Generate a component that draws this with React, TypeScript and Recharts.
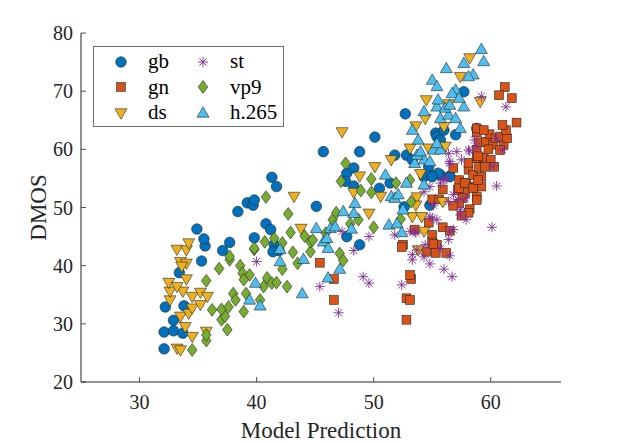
import React from 'react';
import { ScatterChart, Scatter, XAxis, YAxis } from 'recharts';

// values: [model prediction, DMOS]
const gb: number[][] = [
  [32.1, 25.7], [32.1, 28.6], [32.9, 28.8], [33.7, 28.4], [32.9, 30.6], [32.2, 32.9], [33.8, 33.1],
  [33.4, 38.8], [35.3, 40.8], [35.6, 43.4], [35.5, 44.6], [34.9, 46.3], [37.1, 42.6], [37.7, 44.0],
  [39.8, 44.8], [40.8, 47.2], [41.2, 46.2], [38.4, 49.3], [39.2, 50.8], [39.7, 50.4], [39.8, 51.3],
  [41.3, 55.2], [41.7, 53.6], [41.5, 43.6], [41.9, 42.6], [41.4, 42.4], [45.1, 50.2], [45.7, 59.6],
  [47.7, 55.9], [47.6, 54.5], [47.7, 45.0], [48.8, 43.6], [48.3, 53.7], [48.3, 56.8], [48.8, 59.6],
  [50.1, 62.1], [50.5, 53.3], [51.4, 54.2], [51.8, 59.0], [52.6, 50.1], [52.7, 66.1], [52.8, 59.0],
  [53.3, 58.2], [54.7, 57.0], [54.3, 55.3], [54.8, 50.4], [55.0, 55.4], [55.7, 55.6], [56.5, 55.4],
  [55.5, 55.9], [55.3, 62.8], [55.4, 62.2], [55.7, 61.6], [56.0, 63.3], [57.0, 62.5], [57.7, 69.9],
  [58.8, 63.6], [56.5, 55.3], [55.0, 55.3],
];

const gn: number[][] = [
  [45.4, 40.5], [46.6, 37.7], [46.6, 34.1], [52.8, 30.7], [52.8, 34.4], [53.1, 34.1], [53.2, 37.7],
  [53.1, 38.4], [52.5, 43.6], [52.4, 43.2], [53.5, 46.2], [54.7, 47.4], [55.0, 45.3], [55.0, 44.0],
  [55.4, 43.6], [54.5, 42.4], [55.3, 42.2], [56.2, 42.2], [55.1, 43.7], [55.9, 46.6], [56.5, 46.0],
  [55.0, 51.4], [55.6, 51.4], [55.9, 53.1], [57.2, 53.0], [57.8, 52.5], [58.8, 51.8], [57.6, 51.6],
  [57.3, 50.7], [56.8, 50.3], [58.2, 49.7], [58.1, 49.1], [57.5, 48.6], [58.8, 51.3], [57.3, 54.7],
  [57.9, 54.2], [58.7, 53.6], [59.2, 53.6], [57.3, 53.3], [57.8, 54.2], [58.5, 53.3], [56.8, 56.8],
  [58.1, 56.5], [58.5, 55.6], [59.2, 55.3], [58.9, 54.7], [58.1, 57.7], [58.8, 58.5], [59.4, 58.6],
  [60.0, 58.2], [59.0, 57.0], [59.5, 57.0], [60.3, 57.0], [58.8, 59.9], [58.9, 58.8], [59.0, 61.2],
  [59.6, 61.3], [60.2, 60.8], [61.1, 60.8], [59.8, 60.0], [60.8, 59.9], [58.8, 62.9], [59.9, 62.6],
  [60.4, 61.9], [60.8, 62.2], [61.4, 61.9], [61.3, 63.3], [61.0, 64.2], [62.2, 64.6], [58.8, 63.6],
  [59.4, 63.3], [61.2, 70.7], [60.7, 69.3], [61.8, 68.8],
];

const ds: number[][] = [
  [33.2, 25.8], [33.5, 25.5], [34.5, 27.8], [33.9, 29.5], [35.7, 28.7], [33.5, 31.3], [34.2, 31.8],
  [34.5, 32.7], [35.2, 33.3], [32.6, 34.1], [32.6, 35.6], [33.7, 35.6], [34.5, 34.7], [35.2, 35.4],
  [35.8, 34.7], [32.5, 37.1], [33.2, 36.4], [34.0, 37.7], [33.5, 40.7], [34.0, 40.4], [33.6, 39.9],
  [33.2, 42.8], [34.0, 42.7], [34.2, 43.9], [43.2, 51.9], [43.8, 46.4], [47.3, 63.0], [48.8, 55.4],
  [48.3, 52.6], [49.6, 49.0], [50.6, 51.9], [50.1, 57.0], [51.5, 58.2], [53.1, 60.2], [54.7, 60.2],
  [56.1, 60.5], [53.6, 64.0], [54.4, 65.3], [56.0, 63.9], [54.5, 68.5], [56.4, 67.8], [59.1, 68.2],
  [57.4, 72.5], [58.2, 75.7], [54.0, 55.8], [53.7, 51.8], [53.6, 50.4], [53.3, 48.4], [54.1, 48.4],
  [54.3, 45.9], [55.9, 51.0], [53.8, 42.7],
];

const st: number[][] = [
  [40.0, 40.7], [45.4, 36.4], [47.0, 31.9], [47.3, 45.9], [48.3, 42.6], [49.6, 45.0], [49.1, 38.1],
  [49.6, 37.0], [51.8, 45.3], [52.4, 36.7], [53.1, 45.9], [53.6, 45.6], [53.3, 41.9], [53.3, 41.0],
  [53.7, 42.7], [54.3, 41.5], [54.8, 40.3], [54.4, 43.6], [55.7, 43.0], [56.5, 41.7], [56.0, 39.4],
  [56.7, 38.1], [55.0, 48.2], [55.4, 47.9], [54.8, 48.4], [56.5, 45.9], [56.8, 46.2], [56.4, 44.5],
  [53.5, 45.9], [54.3, 52.7], [55.7, 54.2], [56.2, 55.0], [56.8, 52.2], [57.4, 49.6], [57.4, 48.7],
  [57.9, 47.9], [55.1, 50.4], [56.4, 51.0], [57.2, 51.3], [57.8, 51.6], [56.0, 54.7], [54.8, 53.6],
  [60.5, 53.7], [60.1, 46.6], [60.2, 57.1], [56.5, 57.6], [57.5, 58.2], [56.4, 59.3], [57.1, 59.6],
  [58.2, 59.7], [58.6, 61.6], [58.1, 59.9], [58.8, 60.5], [56.5, 57.9], [60.5, 61.9], [61.0, 59.9],
  [61.3, 67.3], [59.2, 69.1],
];

const vp9: number[][] = [
  [34.5, 25.5], [35.7, 27.1], [35.7, 28.1], [37.5, 29.0], [37.0, 30.7], [37.3, 31.3], [37.0, 32.5],
  [37.6, 32.9], [36.2, 32.4], [38.9, 32.1], [38.0, 35.2], [38.2, 34.1], [39.1, 35.2], [40.3, 34.1],
  [40.6, 36.4], [40.9, 37.9], [35.7, 37.4], [36.8, 39.5], [37.7, 41.0], [38.6, 40.0], [38.8, 38.7],
  [39.4, 38.4], [38.9, 37.6], [39.8, 42.8], [40.7, 44.1], [37.7, 41.6], [39.8, 43.0], [40.8, 51.8],
  [41.5, 44.7], [42.2, 43.9], [41.3, 37.0], [41.7, 37.1], [42.6, 36.4], [43.5, 40.4], [42.2, 39.4],
  [43.1, 42.3], [44.6, 42.4], [44.6, 44.1], [42.7, 48.9], [42.9, 45.7], [44.1, 45.1], [44.8, 44.4],
  [45.9, 44.1], [45.9, 45.6], [46.5, 47.9], [46.8, 49.1], [47.1, 42.1], [47.4, 40.9], [47.6, 57.6],
  [47.2, 54.5], [48.0, 47.2], [48.7, 47.9], [48.9, 52.9], [49.8, 52.6], [49.8, 54.9], [50.0, 46.6],
  [51.9, 54.2], [53.1, 54.7], [53.2, 51.0], [52.3, 48.0],
];

const h265: number[][] = [
  [39.9, 37.0], [39.4, 34.1], [40.3, 33.1], [42.0, 42.8], [42.0, 40.7], [44.0, 41.1], [43.9, 35.2],
  [45.7, 44.1], [46.1, 43.0], [46.0, 44.7], [46.1, 37.9], [47.1, 39.4], [45.1, 46.4], [46.3, 46.4],
  [46.7, 46.7], [47.4, 49.3], [48.4, 50.7], [48.3, 49.0], [48.1, 46.3], [51.0, 55.6], [51.5, 51.9],
  [51.8, 51.6], [52.1, 52.2], [52.5, 49.6], [51.3, 47.0], [52.0, 47.2], [52.4, 45.7], [52.8, 54.2],
  [54.3, 53.9], [53.5, 57.6], [54.3, 58.2], [54.8, 57.9], [53.7, 59.0], [54.0, 59.6], [55.1, 59.9],
  [55.7, 59.9], [55.4, 61.0], [53.8, 61.6], [53.3, 63.3], [57.4, 63.6], [55.7, 65.3], [56.4, 65.9],
  [57.0, 65.3], [54.3, 66.5], [55.4, 67.3], [56.1, 67.1], [56.5, 67.6], [57.7, 67.3], [55.5, 68.5],
  [57.0, 70.2], [56.7, 69.6], [57.3, 68.8], [55.0, 71.9], [55.4, 70.8], [58.5, 72.8], [58.1, 72.5],
  [56.2, 73.9], [57.7, 74.8], [59.4, 75.1], [59.2, 77.2],
];

const xTicks = [30, 40, 50, 60];
const yTicks = [20, 30, 40, 50, 60, 70, 80];

const FONT = '"Liberation Serif", "Times New Roman", serif';
const AXIS = '#262626';
const EDGE = '#262626';
const PLOT_LEFT = 81;
const PLOT_BOTTOM = 382;

type Kind = 'circle' | 'square' | 'down' | 'star' | 'diamond' | 'up';

const Marker = ({ kind, cx, cy, color }: { kind: Kind; cx: number; cy: number; color: string }) => {
  switch (kind) {
    case 'circle':
      return <circle cx={cx} cy={cy} r={5.3} fill={color} stroke={EDGE} strokeWidth={0.6} />;
    case 'square':
      return <rect x={cx - 4.4} y={cy - 4.4} width={8.8} height={8.8} fill={color} stroke={EDGE} strokeWidth={0.6} />;
    case 'down':
      return (
        <polygon
          points={`${cx - 6},${cy - 4.2} ${cx + 6},${cy - 4.2} ${cx},${cy + 6.2}`}
          fill={color}
          stroke={EDGE}
          strokeWidth={0.6}
        />
      );
    case 'up':
      return (
        <polygon
          points={`${cx - 6},${cy + 4.2} ${cx + 6},${cy + 4.2} ${cx},${cy - 6.2}`}
          fill={color}
          stroke={EDGE}
          strokeWidth={0.6}
        />
      );
    case 'diamond':
      return (
        <polygon
          points={`${cx},${cy - 6.4} ${cx + 4.8},${cy} ${cx},${cy + 6.4} ${cx - 4.8},${cy}`}
          fill={color}
          stroke={EDGE}
          strokeWidth={0.6}
        />
      );
    case 'star': {
      const r = 5;
      const d = 3.6;
      return (
        <g stroke={color} strokeWidth={0.9}>
          <line x1={cx - r} y1={cy} x2={cx + r} y2={cy} />
          <line x1={cx} y1={cy - r} x2={cx} y2={cy + r} />
          <line x1={cx - d} y1={cy - d} x2={cx + d} y2={cy + d} />
          <line x1={cx - d} y1={cy + d} x2={cx + d} y2={cy - d} />
        </g>
      );
    }
  }
  return null;
};

const series: { name: string; data: number[][]; kind: Kind; color: string }[] = [
  { name: 'gb', data: gb, kind: 'circle', color: '#0072BD' },
  { name: 'gn', data: gn, kind: 'square', color: '#D95319' },
  { name: 'ds', data: ds, kind: 'down', color: '#EDB120' },
  { name: 'st', data: st, kind: 'star', color: '#7E2F8E' },
  { name: 'vp9', data: vp9, kind: 'diamond', color: '#77AC30' },
  { name: 'h.265', data: h265, kind: 'up', color: '#4DBEEE' },
];

// legend box, two columns filled top to bottom
const LegendBox = () => (
  <div
    style={{
      position: 'absolute',
      left: 93,
      top: 46,
      width: 189,
      height: 79,
      border: '1px solid #6e6e6e',
      background: '#fff',
      fontFamily: FONT,
      fontSize: 21,
      color: '#000',
    }}
  >
    {series.map((s, i) => {
      const col = Math.floor(i / 3);
      const row = i % 3;
      return (
        <div
          key={s.name}
          style={{ position: 'absolute', left: 17 + col * 82, top: 2 + row * 25.5, height: 25, display: 'flex', alignItems: 'center' }}
        >
          <svg width={20} height={20} style={{ marginRight: 17 }}>
            <Marker kind={s.kind} cx={10} cy={10} color={s.color} />
          </svg>
          <span style={{ lineHeight: '25px' }}>{s.name}</span>
        </div>
      );
    })}
  </div>
);

const XTick = (p: any) => (
  <g>
    <line x1={p.x} x2={p.x} y1={PLOT_BOTTOM} y2={PLOT_BOTTOM - 5} stroke={AXIS} strokeWidth={0.8} />
    <text x={p.x} y={PLOT_BOTTOM + 27} textAnchor="middle" fontFamily={FONT} fontSize={20} fill={AXIS}>
      {p.payload.value}
    </text>
  </g>
);

const YTick = (p: any) => (
  <g>
    <line x1={PLOT_LEFT} x2={PLOT_LEFT + 5} y1={p.y} y2={p.y} stroke={AXIS} strokeWidth={0.8} />
    <text x={PLOT_LEFT - 8} y={p.y + 7} textAnchor="end" fontFamily={FONT} fontSize={20} fill={AXIS}>
      {p.payload.value}
    </text>
  </g>
);

export default function App() {
  return (
    <div style={{ position: 'absolute', left: 0, top: 0, width: 621, height: 444, background: '#fff' }}>
      <ScatterChart width={621} height={444} margin={{ top: 33, right: 60, left: 31, bottom: 12 }}>
        <XAxis
          type="number"
          dataKey="x"
          domain={[25, 66]}
          ticks={xTicks}
          interval={0}
          height={50}
          tickSize={0}
          stroke={AXIS}
          tick={XTick}
          label={{ value: 'Model Prediction', position: 'insideBottom', offset: -6, fontFamily: FONT, fontSize: 23, fill: AXIS }}
        />
        <YAxis
          type="number"
          dataKey="y"
          domain={[20, 80]}
          ticks={yTicks}
          interval={0}
          width={50}
          tickSize={0}
          stroke={AXIS}
          tick={YTick}
          label={{ value: 'DMOS', angle: -90, position: 'insideLeft', offset: 7, fontFamily: FONT, fontSize: 23, fill: AXIS, style: { textAnchor: 'middle' } }}
        />
        {series.map((s) => (
          <Scatter
            key={s.name}
            name={s.name}
            data={s.data.map(([x, y]) => ({ x, y }))}
            isAnimationActive={false}
            shape={(p: any) => <Marker kind={s.kind} cx={p.cx} cy={p.cy} color={s.color} />}
          />
        ))}
      </ScatterChart>
      <LegendBox />
    </div>
  );
}
